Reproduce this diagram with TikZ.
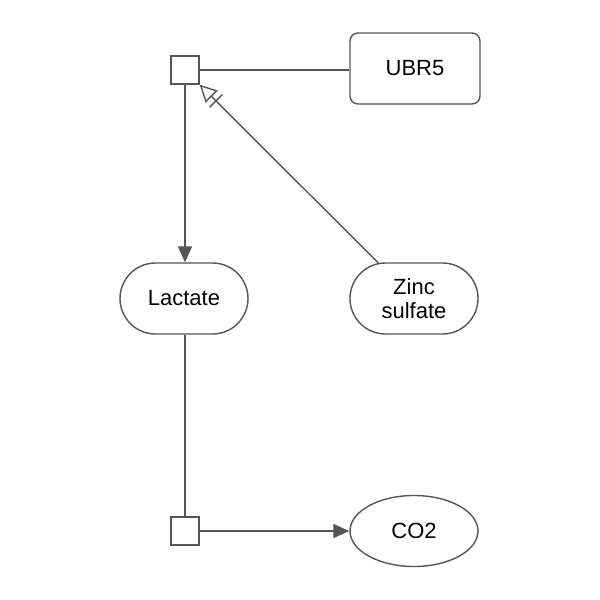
\documentclass[tikz,border=0pt]{standalone}
\usepackage{fontspec}
\setmainfont{Liberation Sans}
\usetikzlibrary{arrows.meta,shapes.geometric,shapes.misc,calc}
\definecolor{lc}{HTML}{555555}
\tikzset{
  edge/.style={draw=lc, line width=1.4pt},
  lbl/.style={font=\fontsize{22}{24}\selectfont, align=center},
  procbox/.style={draw=lc, line width=1.4pt, fill=white, minimum width=28pt, minimum height=28pt, inner sep=0pt},
  macro/.style={lbl, draw=lc, line width=1.4pt, rounded corners=8pt, minimum width=130pt, minimum height=71pt},
  chem/.style={lbl, draw=lc, line width=1.4pt, rounded rectangle, minimum width=128pt, minimum height=71pt, inner sep=0pt},
  oval/.style={lbl, draw=lc, line width=1.4pt, ellipse, minimum width=128pt, minimum height=71pt, inner sep=0pt},
  fillarrow/.style={-{Triangle[length=16pt,width=14pt,fill=lc]}},
  openarrow/.style={-{Triangle[open,length=17pt,width=17pt,fill=white]}}
}
\begin{document}
\begin{tikzpicture}[x=1pt,y=-1pt]
\useasboundingbox (0,0) rectangle (600,600);
\node[procbox] (p1) at (185,70) {};
\node[macro] (ubr) at (415,68.5) {UBR5};
\node[chem] (lac) at (184,298.5) {Lactate};
\node[chem] (zn) at (414,298.5) {Zinc\\sulfate};
\node[oval] (co2) at (414,531) {CO2};
\node[procbox] (p2) at (185,531) {};
\draw[edge] (p1.east) -- (ubr.west |- p1.east);
\draw[edge, fillarrow] (p1.south) -- (p1.south |- lac.north);
\draw[edge] (p2.north |- lac.south) -- (p2.north);
\draw[edge, fillarrow] (p2.east) -- (co2.west);
\draw[edge, openarrow] (zn) -- (p1.south east);
\coordinate (bar) at ($(p1.south east)!23pt!(zn.center)$);
\draw[edge] ($(bar)!9pt!90:(zn.center)$) -- ($(bar)!9pt!-90:(zn.center)$);
\end{tikzpicture}
\end{document}
